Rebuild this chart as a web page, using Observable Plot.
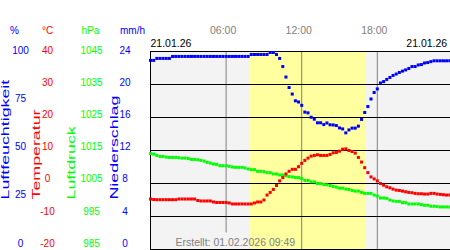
<!DOCTYPE html>
<html><head><meta charset="utf-8">
<script src="https://cdn.jsdelivr.net/npm/d3@7"></script>
<script src="https://cdn.jsdelivr.net/npm/@observablehq/plot@0.6"></script>
<style>
html,body{margin:0;padding:0;background:#fff;}
</style></head><body><div id="chart"></div>
<script>
// ---- data ----
const dateLabel = "21.01.26";
const caption = "Erstellt: 01.02.2026 09:49";
const hourTicks = [6, 12, 18];
const hourLabels = ["06:00", "12:00", "18:00"];
const daylight = [{start: 7.93, end: 17.07}];          // sunrise / sunset in hours
const humidityTicks = [100, 75, 50, 25, 0];
const temperatureTicks = [40, 30, 20, 10, 0, -10, -20];
const pressureTicks = [1045, 1035, 1025, 1015, 1005, 995, 985];
const precipTicks = [24, 20, 16, 12, 8, 4, 0];
const unitLabels = ["%", "°C", "hPa", "mm/h"];
const axisTitles = ["Luftfeuchtigkeit", "Temperatur", "Luftdruck", "Niederschlag"];
const stepHours = 0.25; // one reading every 15 minutes

const humidity = [
  95.5, 95.5, 96.5, 96.5, 96.5, 96.5, 96.5, 97.5, 97.5, 97.5,
  97.5, 97.5, 97.5, 97.5, 97.5, 97.5, 97.5, 97.5, 97.5, 97.5,
  97.5, 97.5, 97.5, 97.5, 97.5, 97.5, 97.5, 97.5, 97.5, 97.5,
  97.5, 97.5, 98.5, 98.5, 98.5, 98.5, 98.5, 98.5, 99.5, 99.5,
  98.5, 96.5, 92.4, 87.1, 81.8, 78.5, 75.1, 74.5, 72.8, 69.4,
  69.0, 66.8, 65.8, 64.0, 64.0, 63.1, 63.9, 63.0, 62.9, 62.6,
  61.4, 60.9, 58.9, 60.4, 61.3, 61.3, 62.3, 65.7, 69.2, 72.2,
  76.0, 79.3, 81.1, 84.1, 84.8, 85.9, 86.9, 87.9, 88.6, 89.4,
  90.1, 90.7, 91.4, 92.4, 92.4, 93.2, 93.4, 94.2, 94.4, 94.9,
  95.3, 95.3, 95.3, 95.3, 95.3, 95.3
];
const temperature = [
  -4.7, -4.85, -4.9, -4.9, -4.9, -4.9, -4.9, -4.9, -4.9, -4.7,
  -4.7, -4.7, -4.7, -4.7, -4.7, -5.15, -5.3, -5.3, -5.3, -5.3,
  -5.6, -5.75, -5.75, -5.75, -5.75, -5.9, -6.2, -6.2, -6.2, -6.2,
  -6.2, -6.2, -6.2, -5.9, -5.6, -5.6, -5.0, -3.5, -2.7, -1.8,
  -0.6, 0.8, 1.8, 2.9, 3.7, 4.3, 4.3, 5.1, 6.1, 7.0,
  7.7, 8.3, 8.5, 8.7, 8.5, 8.5, 8.5, 8.8, 9.3, 9.4,
  9.8, 10.4, 10.5, 10.0, 9.7, 9.2, 7.9, 6.5, 4.8, 3.3,
  2.0, 1.4, 0.8, 0.0, -0.5, -1.0, -1.3, -1.7, -2.0, -2.1,
  -2.3, -2.5, -2.7, -2.8, -3.0, -3.1, -3.1, -3.2, -3.2, -3.0,
  -3.0, -3.2, -3.3, -3.4, -3.5, -3.5
];
const pressure = [
  1014.1, 1013.9, 1013.5, 1013.2, 1013.2, 1013.0, 1012.9, 1012.9, 1012.9, 1012.8,
  1012.7, 1012.7, 1012.6, 1012.3, 1012.3, 1012.2, 1012.0, 1011.8, 1011.4, 1011.2,
  1010.9, 1010.8, 1010.4, 1010.4, 1010.4, 1010.2, 1010.0, 1009.9, 1009.9, 1009.9,
  1009.7, 1009.4, 1009.2, 1009.2, 1008.7, 1008.7, 1008.6, 1008.3, 1008.3, 1007.9,
  1007.9, 1007.6, 1007.6, 1007.3, 1007.1, 1007.0, 1006.8, 1006.8, 1006.5, 1005.9,
  1005.9, 1005.5, 1005.5, 1005.0, 1005.0, 1004.7, 1004.6, 1004.4, 1004.1, 1003.9,
  1003.6, 1003.6, 1003.3, 1003.2, 1002.9, 1002.7, 1002.7, 1002.3, 1002.0, 1002.0,
  1002.0, 1001.5, 1001.2, 1000.6, 1000.6, 1000.5, 1000.0, 999.7, 999.6, 999.6,
  999.2, 999.2, 998.8, 998.8, 998.8, 998.8, 998.6, 998.4, 998.4, 998.1,
  998.1, 998.0, 997.9, 997.9, 997.9, 997.9
];

// ---- colours ----
const BLUE = "#0000ff", RED = "#ff0000", GREEN = "#00ff00", GRAY = "#808080";

// every series is put on a shared 0..6 grid (six grid intervals)
const gH = v => v / 100 * 6;
const gT = v => (v + 20) / 10;
const gP = v => (v - 985) / 10;
const gR = v => v / 4;
const lab = g => 0.182 + 0.975 * g; // tick-label placement (labels sit slightly compressed)

const series = (vals, conv) => vals.map((v, i) => ({h: i * stepHours, g: conv(v)}));
const humData = series(humidity, gH);
const tempData = series(temperature, gT);
const presData = series(pressure, gP);

const tickText = (ticks, conv, dx, fill) =>
  Plot.text(ticks, {y: d => lab(conv(d)), text: d => String(d), frameAnchor: "left",
    dx, fill, fontSize: 10, textAnchor: "middle", lineAnchor: "middle"});

const unitDx = [-136, -103, -60, -18];
const unitFill = [BLUE, RED, GREEN, BLUE];
const titleDx = [-144.5, -114, -79, -36];

const chart = Plot.plot({
  width: 450,
  height: 250,
  marginLeft: 150,
  marginRight: -2.4,
  marginTop: 51,
  marginBottom: 1,
  x: {domain: [0, 24], axis: null},
  y: {domain: [0, 6], axis: null},
  style: {fontFamily: "'Liberation Sans', Arial, sans-serif", fontSize: "10px", background: "white"},
  marks: [
    Plot.frame({fill: "#f3f3f3"}),
    Plot.rect(daylight, {x1: "start", x2: "end", fill: "#ffffa0"}),
    Plot.ruleX(hourTicks.slice(0, 1), {y1: 0.5, y2: 6, stroke: GRAY}),
    Plot.ruleX(hourTicks.slice(1), {stroke: GRAY}),
    Plot.ruleY(d3.range(0, 7), {stroke: "black"}),
    Plot.frame({stroke: "black"}),
    Plot.dot(presData, {x: "h", y: "g", symbol: "square", r: 1.7, fill: GREEN}),
    Plot.dot(tempData, {x: "h", y: "g", symbol: "square", r: 1.7, fill: RED}),
    Plot.dot(humData, {x: "h", y: "g", symbol: "square", r: 1.7, fill: BLUE}),
    // top hour labels
    Plot.text(hourTicks, {x: d => d, text: (d, i) => hourLabels[i], frameAnchor: "top", dy: -21, dx: -3,
      lineAnchor: "middle", fill: GRAY, fontSize: 10.5}),
    // dates
    Plot.text([dateLabel], {text: d => d, frameAnchor: "top-left", dy: -8, textAnchor: "start",
      lineAnchor: "middle", fill: "black", fontSize: 10.5}),
    Plot.text([dateLabel], {text: d => d, frameAnchor: "top-right", dy: -8, dx: -5.7, textAnchor: "end",
      lineAnchor: "middle", fill: "black", fontSize: 10.5}),
    // caption
    Plot.text([caption], {text: d => d, frameAnchor: "bottom-left", dx: 25, dy: -7, textAnchor: "start",
      lineAnchor: "middle", fill: GRAY, fontSize: 10.5}),
    // unit header
    ...unitLabels.map((u, i) => Plot.text([u], {text: d => d, frameAnchor: "top-left", dx: unitDx[i], dy: -21,
      textAnchor: "middle", lineAnchor: "middle", fill: unitFill[i], fontSize: 10})),
    // tick labels
    tickText(humidityTicks, gH, -130, BLUE),
    tickText(temperatureTicks, gT, -103, RED),
    tickText(pressureTicks, gP, -59, GREEN),
    tickText(precipTicks, gR, -25.5, BLUE),
    // rotated axis titles
    ...axisTitles.map((t, i) => Plot.text([t], {text: d => d, frameAnchor: "bottom-left", dx: titleDx[i], dy: -50,
      rotate: -90, textAnchor: "start", lineAnchor: "middle", fill: unitFill[i], fontSize: 10}))
  ]
});

document.getElementById("chart").appendChild(chart);
// the rotated titles are drawn stretched along their length in the reference
d3.select(chart).selectAll("text")
  .filter(function () { return axisTitles.includes(this.textContent); })
  .each(function () {
    const len = this.getComputedTextLength();
    d3.select(this).attr("textLength", len * 1.78).attr("lengthAdjust", "spacingAndGlyphs");
  });
</script></body></html>
